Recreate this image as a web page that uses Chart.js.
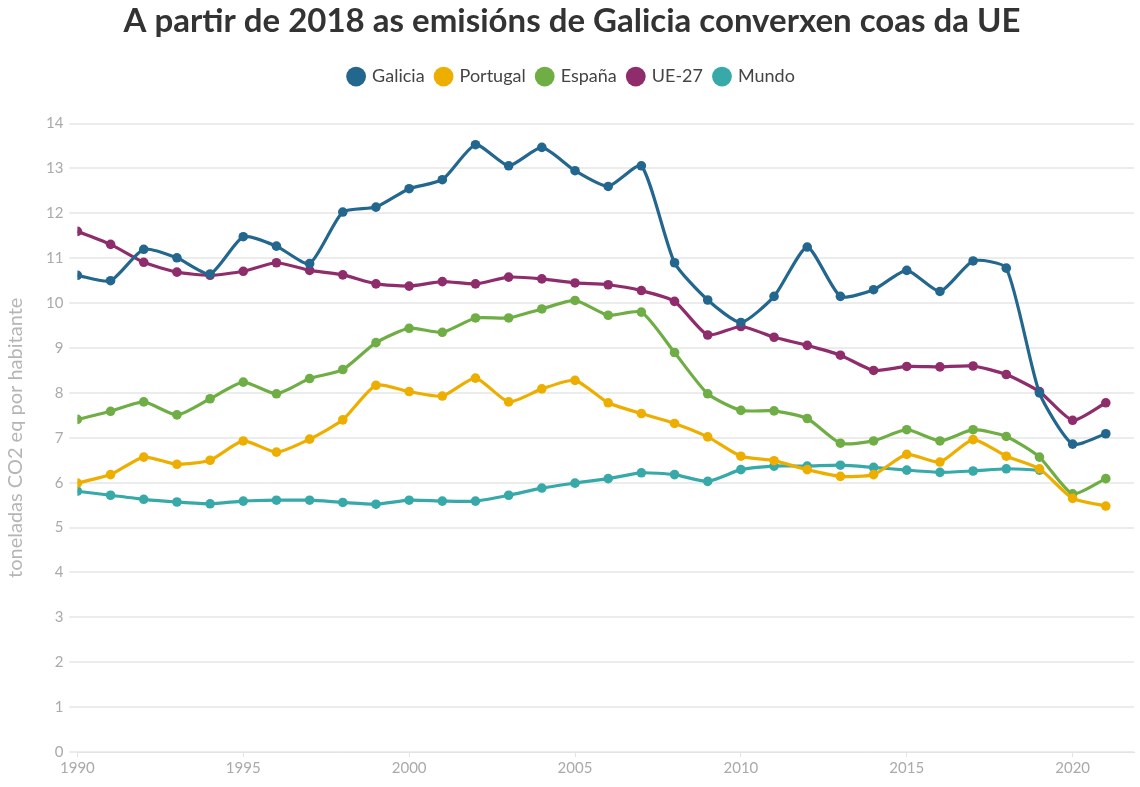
<!DOCTYPE html>
<html>
<head>
<meta charset="utf-8">
<script src="https://cdn.jsdelivr.net/npm/chart.js@4"></script>
<style>
  html, body { margin: 0; padding: 0; background: #fff; }
  #wrap { width: 1140px; height: 787px; }
</style>
</head>
<body>
<div id="wrap"><canvas id="chart"></canvas></div>
<script>
// tonnes CO2 eq per inhabitant
const years = [1990, 1991, 1992, 1993, 1994, 1995, 1996, 1997, 1998, 1999,
               2000, 2001, 2002, 2003, 2004, 2005, 2006, 2007, 2008, 2009,
               2010, 2011, 2012, 2013, 2014, 2015, 2016, 2017, 2018, 2019,
               2020, 2021];
const galicia = [10.62, 10.5, 11.2, 11.01, 10.65, 11.48, 11.27, 10.88, 12.03, 12.14,
                 12.55, 12.75, 13.53, 13.06, 13.47, 12.95, 12.6, 13.06, 10.9, 10.07,
                 9.57, 10.15, 11.25, 10.15, 10.3, 10.73, 10.26, 10.94, 10.78, 8.0,
                 6.86, 7.09];
const portugal = [5.99, 6.18, 6.57, 6.41, 6.5, 6.93, 6.68, 6.97, 7.4, 8.17,
                  8.03, 7.93, 8.33, 7.8, 8.09, 8.28, 7.78, 7.54, 7.32, 7.02,
                  6.59, 6.49, 6.29, 6.14, 6.18, 6.63, 6.46, 6.96, 6.59, 6.31,
                  5.65, 5.48];
const espana = [7.41, 7.59, 7.8, 7.51, 7.87, 8.24, 7.98, 8.32, 8.52, 9.12,
                9.44, 9.35, 9.67, 9.67, 9.87, 10.06, 9.73, 9.8, 8.9, 7.98,
                7.61, 7.6, 7.43, 6.88, 6.93, 7.18, 6.93, 7.18, 7.03, 6.57,
                5.75, 6.09];
const ue27 = [11.6, 11.31, 10.91, 10.69, 10.62, 10.71, 10.9, 10.73, 10.63, 10.43,
              10.38, 10.48, 10.43, 10.58, 10.54, 10.45, 10.41, 10.28, 10.04, 9.29,
              9.48, 9.24, 9.06, 8.84, 8.5, 8.59, 8.58, 8.6, 8.41, 8.03,
              7.39, 7.78];
const mundo = [5.81, 5.72, 5.63, 5.57, 5.53, 5.59, 5.61, 5.61, 5.56, 5.52,
               5.61, 5.59, 5.59, 5.72, 5.88, 5.99, 6.09, 6.22, 6.18, 6.03,
               6.29, 6.37, 6.37, 6.39, 6.34, 6.28, 6.23, 6.26, 6.31, 6.28];

const seriesNames = ['Galicia', 'Portugal', 'España', 'UE-27', 'Mundo'];
const seriesColors = ['#23678f', '#eeae00', '#6fad45', '#8f2d6c', '#37a9a9'];
const seriesValues = [galicia, portugal, espana, ue27, mundo];

const FONT = "Lato, 'Open Sans', sans-serif";

function toPoints(values) {
    return values.map(function (v, i) { return { x: years[i], y: v }; });
}

const datasets = seriesNames.map(function (name, i) {
    return {
        label: name,
        data: toPoints(seriesValues[i]),
        borderColor: seriesColors[i],
        backgroundColor: seriesColors[i],
        borderWidth: 3.2,
        pointRadius: 4.8,
        pointHoverRadius: 6,
        pointBorderWidth: 0,
        tension: 0.2,
        fill: false
    };
});

// extra room under the legend
const legendMargin = {
    id: 'legendMargin',
    beforeInit(chart) {
        const fit = chart.legend.fit;
        chart.legend.fit = function () {
            fit.bind(chart.legend)();
            this.height += 28;
        };
    }
};

new Chart(document.getElementById('chart').getContext('2d'), {
    type: 'line',
    data: { datasets: datasets },
    plugins: [legendMargin],
    options: {
        responsive: true,
        maintainAspectRatio: false,
        animation: false,
        layout: { padding: { left: 4, right: 0, top: 2, bottom: 8 } },
        plugins: {
            title: {
                display: true,
                text: 'A partir de 2018 as emisións de Galicia converxen coas da UE',
                color: '#333',
                font: { family: FONT, size: 33, weight: 'bold' },
                padding: { top: 0, bottom: 14 }
            },
            legend: {
                display: true,
                position: 'top',
                labels: {
                    usePointStyle: true,
                    pointStyle: 'circle',
                    boxWidth: 14,
                    boxHeight: 14,
                    padding: 12,
                    color: '#444',
                    font: { family: FONT, size: 18 }
                }
            },
            tooltip: { enabled: true }
        },
        scales: {
            x: {
                type: 'linear',
                min: 1990,
                max: 2021.85,
                grid: { display: true, drawOnChartArea: false, drawTicks: true, tickLength: 5, color: '#e4e4e4' },
                border: { display: true, color: '#e4e4e4' },
                ticks: {
                    stepSize: 5,
                    includeBounds: false,
                    maxRotation: 0,
                    color: '#aaa',
                    padding: 2,
                    font: { family: FONT, size: 15 },
                    callback: function (value) {
                        return value % 5 === 0 ? String(value) : '';
                    }
                }
            },
            y: {
                min: 0,
                max: 14,
                grid: { color: '#ececec', lineWidth: 2, drawTicks: true, tickLength: 8 },
                border: { display: false },
                ticks: {
                    stepSize: 1,
                    color: '#aaa',
                    padding: 6,
                    font: { family: FONT, size: 15 }
                },
                title: {
                    display: true,
                    text: 'toneladas CO2 eq por habitante',
                    color: '#b5b5b5',
                    font: { family: FONT, size: 20 },
                    padding: { top: 0, bottom: 12 }
                }
            }
        }
    }
});
</script>
</body>
</html>
